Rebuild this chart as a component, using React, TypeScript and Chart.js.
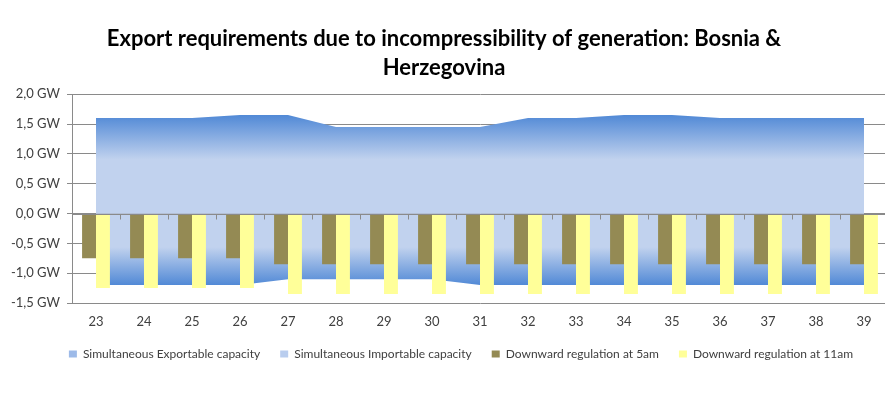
import React, { useEffect, useRef } from 'react';
import { Chart, registerables } from 'chart.js';

Chart.register(...registerables);

const categories = ['23', '24', '25', '26', '27', '28', '29', '30', '31', '32', '33', '34', '35', '36', '37', '38', '39'];
const exportable = [1.6, 1.6, 1.6, 1.65, 1.65, 1.45, 1.45, 1.45, 1.45, 1.6, 1.6, 1.65, 1.65, 1.6, 1.6, 1.6, 1.6];
const importable = [-1.2, -1.2, -1.2, -1.2, -1.1, -1.1, -1.1, -1.1, -1.2, -1.2, -1.2, -1.2, -1.2, -1.2, -1.2, -1.2, -1.2];
const regulation5am = [-0.75, -0.75, -0.75, -0.75, -0.85, -0.85, -0.85, -0.85, -0.85, -0.85, -0.85, -0.85, -0.85, -0.85, -0.85, -0.85, -0.85];
const regulation11am = [-1.25, -1.25, -1.25, -1.25, -1.35, -1.35, -1.35, -1.35, -1.35, -1.35, -1.35, -1.35, -1.35, -1.35, -1.35, -1.35, -1.35];
const titleLines = ['Export requirements due to incompressibility of generation: Bosnia &', 'Herzegovina'];
const seriesNames = ['Simultaneous Exportable capacity', 'Simultaneous Importable capacity', 'Downward regulation at 5am', 'Downward regulation at 11am'];

const DARK = '#5189d6';
const LIGHT = '#c1d2ee';
const GRID = '#8a8a8a';
const FONT = 'Lato, "Liberation Sans", sans-serif';
const legendColors = ['#9dbae8', '#b9cdee', '#948a54', '#ffff99'];

const axisTicksPlugin = {
  id: 'axisTicks',
  afterLayout(chart: any) {
    if (chart.legend) {
      chart.legend.left += 17;
      chart.legend.right += 17;
    }
  },
  afterDatasetsDraw(chart: any) {
    const { ctx, scales, chartArea } = chart;
    const x = scales.x;
    const y = scales.y;
    const y0 = Math.round(y.getPixelForValue(0)) + 0.5;
    ctx.save();
    ctx.strokeStyle = GRID;
    ctx.lineWidth = 1;
    ctx.beginPath();
    ctx.moveTo(chartArea.left, y0);
    ctx.lineTo(chartArea.right, y0);
    for (let i = 1; i <= categories.length; i++) {
      const px = Math.round(x.getPixelForValue(i - 0.5)) + 0.5;
      ctx.moveTo(px, y0);
      ctx.lineTo(px, y0 + 5);
    }
    ctx.stroke();
    ctx.restore();
  },
};

function exportGradient(context: any) {
  const chart = context.chart;
  const { ctx, chartArea, scales } = chart;
  if (!chartArea) return LIGHT;
  const top = scales.y.getPixelForValue(1.65);
  const bottom = scales.y.getPixelForValue(0);
  const g = ctx.createLinearGradient(0, top, 0, bottom);
  g.addColorStop(0, DARK);
  g.addColorStop(0.45, LIGHT);
  g.addColorStop(1, LIGHT);
  return g;
}

function importGradient(context: any) {
  const chart = context.chart;
  const { ctx, chartArea, scales } = chart;
  if (!chartArea) return LIGHT;
  const top = scales.y.getPixelForValue(0);
  const bottom = scales.y.getPixelForValue(-1.2);
  const g = ctx.createLinearGradient(0, top, 0, bottom);
  g.addColorStop(0, LIGHT);
  g.addColorStop(0.47, LIGHT);
  g.addColorStop(1, DARK);
  return g;
}

export default function App() {
  const ref = useRef<HTMLCanvasElement>(null);

  useEffect(() => {
    if (!ref.current) return;
    const chart = new Chart(ref.current, {
      type: 'bar',
      data: {
        labels: categories,
        datasets: [
          {
            type: 'line',
            label: seriesNames[0],
            data: exportable,
            fill: 'origin',
            backgroundColor: exportGradient,
            borderWidth: 0,
            borderColor: 'rgba(0,0,0,0)',
            pointRadius: 0,
            tension: 0,
            order: 3,
          } as any,
          {
            type: 'line',
            label: seriesNames[1],
            data: importable,
            fill: 'origin',
            backgroundColor: importGradient,
            borderWidth: 0,
            borderColor: 'rgba(0,0,0,0)',
            pointRadius: 0,
            tension: 0,
            order: 3,
          } as any,
          {
            type: 'bar',
            label: seriesNames[2],
            data: regulation5am,
            backgroundColor: '#948a54',
            borderWidth: 0,
            categoryPercentage: 0.58,
            barPercentage: 1,
            order: 1,
          },
          {
            type: 'bar',
            label: seriesNames[3],
            data: regulation11am,
            backgroundColor: '#ffff99',
            borderWidth: 0,
            categoryPercentage: 0.58,
            barPercentage: 1,
            order: 1,
          },
        ],
      },
      options: {
        responsive: false,
        animation: false,
        layout: { padding: { left: 0, right: 2, top: 0, bottom: 35 } },
        plugins: {
          tooltip: { enabled: false },
          title: {
            display: true,
            text: titleLines,
            color: '#000000',
            font: { family: FONT, size: 22, weight: 'bold', lineHeight: 1.3 },
            padding: { top: 25, bottom: 12 },
          },
          legend: {
            position: 'bottom',
            labels: {
              boxWidth: 8,
              boxHeight: 7,
              padding: 20,
              color: '#404040',
              font: { family: FONT, size: 12 },
              sort: (a: any, b: any) => a.datasetIndex - b.datasetIndex,
              generateLabels: (c: any) => {
                const items = Chart.defaults.plugins.legend.labels.generateLabels(c);
                items.forEach((it: any) => {
                  const col = legendColors[it.datasetIndex];
                  it.fillStyle = col;
                  it.strokeStyle = col;
                  it.lineWidth = 0;
                });
                return items;
              },
            },
          },
        },
        scales: {
          x: {
            offset: true,
            grid: { display: false, drawTicks: false },
            border: { display: false },
            ticks: { color: '#404040', font: { family: FONT, size: 13 }, padding: 11 },
            afterFit: (s: any) => {
              s.height = 25;
            },
          },
          y: {
            min: -1.5,
            max: 2.0,
            afterFit: (s: any) => {
              s.width = 72;
            },
            ticks: {
              stepSize: 0.5,
              color: '#404040',
              font: { family: FONT, size: 13 },
              padding: 7,
              callback: (v: any) => Number(v).toFixed(1).replace('.', ',') + ' GW',
            },
            grid: { color: GRID, tickLength: 5, lineWidth: 1 },
            border: { color: GRID },
          },
        },
      },
      plugins: [axisTicksPlugin],
    });
    return () => chart.destroy();
  }, []);

  return (
    <div style={{ position: 'fixed', left: 0, top: 0, width: 885, height: 405, overflow: 'hidden', background: '#ffffff' }}>
      <canvas ref={ref} width={890} height={405} style={{ display: 'block' }} />
    </div>
  );
}
